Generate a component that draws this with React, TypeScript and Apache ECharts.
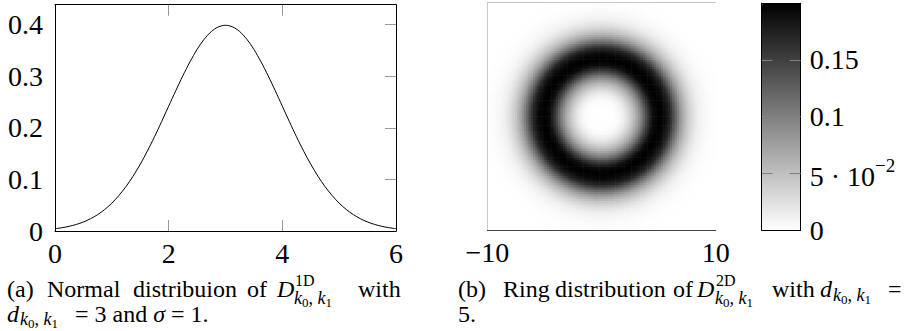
import React, { useEffect, useRef } from 'react';
import * as echarts from 'echarts';

// ---- Data ----
// (a) normal distribution curve
const normX = [0, 0.125, 0.25, 0.375, 0.5, 0.625, 0.75, 0.875, 1, 1.125, 1.25, 1.375, 1.5, 1.625, 1.75, 1.875, 2, 2.125, 2.25, 2.375, 2.5, 2.625, 2.75, 2.875, 3, 3.125, 3.25, 3.375, 3.5, 3.625, 3.75, 3.875, 4, 4.125, 4.25, 4.375, 4.5, 4.625, 4.75, 4.875, 5, 5.125, 5.25, 5.375, 5.5, 5.625, 5.75, 5.875, 6];
const normY = [0.0044, 0.0064, 0.0091, 0.0127, 0.0175, 0.0238, 0.0317, 0.0417, 0.054, 0.0689, 0.0863, 0.1065, 0.1295, 0.1549, 0.1826, 0.2119, 0.242, 0.2721, 0.3011, 0.328, 0.3521, 0.3719, 0.3867, 0.3958, 0.3989, 0.3958, 0.3867, 0.3719, 0.3521, 0.328, 0.3011, 0.2721, 0.242, 0.2119, 0.1826, 0.1549, 0.1295, 0.1065, 0.0863, 0.0689, 0.054, 0.0417, 0.0317, 0.0238, 0.0175, 0.0127, 0.0091, 0.0064, 0.0044];
const leftXLabels = [0, 2, 4, 6];
const leftXTicks = [2, 4];
const leftYLabels = [0, 0.1, 0.2, 0.3, 0.4];
const leftYTicks = [0.1, 0.2, 0.3, 0.4];

// (b) ring distribution: radial profile (radius -> value) read from grey levels
const ringRadius = [0, 0.5, 1, 1.5, 2, 2.5, 3, 3.5, 4, 4.5, 5, 5.5, 6, 6.5, 7, 7.5, 8, 8.5, 9, 9.5, 10, 10.5, 11, 15];
const ringValue = [0, 0.0005, 0.001, 0.004, 0.015, 0.035, 0.062, 0.1, 0.15, 0.19, 0.2, 0.193, 0.17, 0.12, 0.075, 0.045, 0.025, 0.012, 0.006, 0.003, 0.001, 0.0005, 0, 0];
const heatXLabels = [-10, 10];
const barLabels = [0, 0.05, 0.1, 0.15];
const barTicks = [0.05, 0.1, 0.15];

const FONT = 'Liberation Serif';
const N = 100;
const HALF = 10 / N;

function ringAt(r: number): number {
  for (let i = 0; i < ringRadius.length - 1; i++) {
    if (r >= ringRadius[i] && r <= ringRadius[i + 1]) {
      const t = (r - ringRadius[i]) / (ringRadius[i + 1] - ringRadius[i]);
      return ringValue[i] + t * (ringValue[i + 1] - ringValue[i]);
    }
  }
  return 0;
}

function buildHeat(): number[][] {
  const out: number[][] = [];
  for (let i = 0; i < N; i++) {
    for (let j = 0; j < N; j++) {
      const x = -10 + (i + 0.5) * 2 * HALF;
      const y = -10 + (j + 0.5) * 2 * HALF;
      out.push([x, y, ringAt(Math.sqrt(x * x + y * y))]);
    }
  }
  return out;
}

const fmtMinus = (v: number) => (v < 0 ? '\u2212' + Math.abs(v) : String(v));

const CAP = 24;

function txt(x: number, y: number, text: string, opts: any = {}) {
  return {
    type: 'text',
    x,
    y,
    silent: true,
    style: {
      text,
      fontFamily: FONT,
      fontSize: opts.fs || CAP,
      lineHeight: opts.lh,
      fontStyle: opts.it ? 'italic' : 'normal',
      fill: '#000',
      verticalAlign: 'middle',
      align: 'left',
      rich: opts.rich,
    },
  };
}

const subRich = {
  i: { fontFamily: FONT, fontSize: 18, lineHeight: 20, fontStyle: 'italic', verticalAlign: 'top' },
  c: { fontFamily: FONT, fontSize: 18, lineHeight: 20, verticalAlign: 'top' },
  d: { fontFamily: FONT, fontSize: 13, lineHeight: 11, verticalAlign: 'bottom' },
};
const subK = (x: number, y: number) => txt(x, y, '{i|k}{d|0}{c|, }{i|k}{d|1}', { rich: subRich });

const L1 = 289;
const L2 = 314;

const captions = [
  txt(7, L1, '(a)'),
  txt(47, L1, 'Normal'),
  txt(133, L1, 'distribuion'),
  txt(247, L1, 'of'),
  txt(277, L1, 'D', { it: true }),
  txt(295, L1 - 9, '1D', { fs: 16, lh: 13 }),
  subK(294, L1 + 10),
  txt(358, L1, 'with'),
  txt(7, L2, 'd', { it: true }),
  subK(20, L2 + 6),
  txt(75, L2, '{r|= 3 and }{i|\u03c3}{r| = 1.}', {
    rich: {
      r: { fontFamily: FONT, fontSize: CAP },
      i: { fontFamily: FONT, fontSize: CAP, fontStyle: 'italic' },
    },
  }),
  txt(458, L1, '(b)'),
  txt(503, L1, 'Ring'),
  txt(555, L1, 'distribution'),
  txt(673, L1, 'of'),
  txt(697, L1, 'D', { it: true }),
  txt(716, L1 - 9, '2D', { fs: 16, lh: 13 }),
  subK(715, L1 + 10),
  txt(772, L1, 'with'),
  txt(820, L1, 'd', { it: true }),
  subK(833, L1 + 7),
  txt(888, L1, '='),
  txt(458, L2, '5.'),
];

const noSplit = { show: false };

export default function App() {
  const ref = useRef<HTMLDivElement>(null);
  useEffect(() => {
    if (!ref.current) return;
    const chart = echarts.init(ref.current, null, { renderer: 'svg' });
    const heat = buildHeat();
    const lbl = { fontFamily: FONT, fontSize: 28, color: '#000' };
    const option: any = {
      animation: false,
      backgroundColor: '#fff',
      textStyle: { fontFamily: FONT },
      grid: [
        { left: 55, top: 4.7, width: 341, height: 226.3, show: false },
        { left: 487.3, top: 2.3, width: 228.4, height: 227.7, show: false },
        { left: 761.7, top: 3.3, width: 39, height: 226.7, show: false },
      ],
      xAxis: [
        {
          gridIndex: 0, type: 'value', min: 0, max: 6, position: 'bottom', z: 5,
          axisLine: { show: true, onZero: false, lineStyle: { color: '#000', width: 1 } },
          axisTick: { show: true, inside: true, length: 11, customValues: leftXTicks, lineStyle: { color: '#999', width: 1 } },
          axisLabel: { ...lbl, margin: 8, customValues: leftXLabels, formatter: (v: number) => String(v) },
          splitLine: noSplit,
        },
        {
          gridIndex: 0, type: 'value', min: 0, max: 6, position: 'top', z: 5,
          axisLine: { show: true, onZero: false, lineStyle: { color: '#000', width: 1 } },
          axisTick: { show: true, inside: true, length: 11, customValues: leftXTicks, lineStyle: { color: '#999', width: 1 } },
          axisLabel: { show: false },
          splitLine: noSplit,
        },
        {
          gridIndex: 1, type: 'value', min: -10, max: 10, position: 'bottom', z: 5,
          axisLine: { show: true, onZero: false, lineStyle: { color: '#444', width: 1 } },
          axisTick: { show: false },
          axisLabel: { ...lbl, margin: 8, customValues: heatXLabels, formatter: fmtMinus },
          splitLine: noSplit,
        },
        {
          gridIndex: 1, type: 'value', min: -10, max: 10, position: 'top', z: 5,
          axisLine: { show: true, onZero: false, lineStyle: { color: '#c8c8c8', width: 1 } },
          axisTick: { show: false },
          axisLabel: { show: false },
          splitLine: noSplit,
        },
        {
          gridIndex: 2, type: 'value', min: 0, max: 1, position: 'bottom', z: 5,
          axisLine: { show: true, onZero: false, lineStyle: { color: '#000', width: 1 } },
          axisTick: { show: false }, axisLabel: { show: false }, splitLine: noSplit,
        },
        {
          gridIndex: 2, type: 'value', min: 0, max: 1, position: 'top', z: 5,
          axisLine: { show: true, onZero: false, lineStyle: { color: '#000', width: 1 } },
          axisTick: { show: false }, axisLabel: { show: false }, splitLine: noSplit,
        },
      ],
      yAxis: [
        {
          gridIndex: 0, type: 'value', min: 0, max: 0.4388, position: 'left', z: 5,
          axisLine: { show: true, onZero: false, lineStyle: { color: '#000', width: 1 } },
          axisTick: { show: false },
          axisLabel: { ...lbl, margin: 12, customValues: leftYLabels, formatter: (v: number) => String(v) },
          splitLine: noSplit,
        },
        {
          gridIndex: 0, type: 'value', min: 0, max: 0.4388, position: 'right', z: 5,
          axisLine: { show: true, onZero: false, lineStyle: { color: '#000', width: 1 } },
          axisTick: { show: true, inside: true, length: 11, customValues: leftYTicks, lineStyle: { color: '#999', width: 1 } },
          axisLabel: { show: false },
          splitLine: noSplit,
        },
        {
          gridIndex: 1, type: 'value', min: -10, max: 10, position: 'left', z: 5,
          axisLine: { show: true, onZero: false, lineStyle: { color: '#c8c8c8', width: 1 } },
          axisTick: { show: false }, axisLabel: { show: false }, splitLine: noSplit,
        },
        {
          gridIndex: 2, type: 'value', min: 0, max: 0.2, position: 'right', z: 5,
          axisLine: { show: true, onZero: false, lineStyle: { color: '#000', width: 1 } },
          axisTick: { show: true, inside: true, length: 11, customValues: barTicks, lineStyle: { color: '#808080', width: 1 } },
          axisLabel: {
            ...lbl,
            margin: 9,
            customValues: barLabels,
            formatter: (v: number) => (Math.abs(v - 0.05) < 1e-9 ? '{n|5 \u00b7 10}{s|\u22122}' : String(v)),
            rich: {
              n: { fontFamily: FONT, fontSize: 28, lineHeight: 34, verticalAlign: 'bottom' },
              s: { fontFamily: FONT, fontSize: 19, lineHeight: 19, verticalAlign: 'top' },
            },
          },
          splitLine: noSplit,
        },
        {
          gridIndex: 2, type: 'value', min: 0, max: 0.2, position: 'left', z: 5,
          axisLine: { show: true, onZero: false, lineStyle: { color: '#000', width: 1 } },
          axisTick: { show: true, inside: true, length: 11, customValues: barTicks, lineStyle: { color: '#808080', width: 1 } },
          axisLabel: { show: false }, splitLine: noSplit,
        },
      ],
      visualMap: {
        type: 'continuous',
        min: 0,
        max: 0.2,
        seriesIndex: 1,
        dimension: 2,
        orient: 'vertical',
        left: 762,
        top: 3,
        itemWidth: 39,
        itemHeight: 227,
        padding: 0,
        calculable: false,
        hoverLink: false,
        z: 1,
        inRange: { color: ['#ffffff', '#000000'] },
      },
      series: [
        {
          type: 'line',
          xAxisIndex: 0,
          yAxisIndex: 0,
          data: normX.map((x, i) => [x, normY[i]]),
          smooth: 0.3,
          showSymbol: false,
          symbol: 'none',
          lineStyle: { color: '#000', width: 1 },
          silent: true,
          z: 3,
        },
        {
          type: 'custom',
          coordinateSystem: 'cartesian2d',
          xAxisIndex: 2,
          yAxisIndex: 2,
          encode: { x: 0, y: 1 },
          data: heat,
          progressive: 0,
          silent: true,
          renderItem: (params: any, api: any) => {
            const x = api.value(0);
            const y = api.value(1);
            const p = api.coord([x - HALF, y + HALF]);
            const s = api.size([2 * HALF, 2 * HALF]);
            const ex = x + HALF < 10 - 1e-6 ? 0.6 : 0;
            const ey = y - HALF > -10 + 1e-6 ? 0.6 : 0;
            return {
              type: 'rect',
              shape: { x: p[0], y: p[1], width: s[0] + ex, height: s[1] + ey },
              style: { fill: api.visual('color'), stroke: null },
            };
          },
        },
      ],
      graphic: captions,
    };
    chart.setOption(option);
    return () => chart.dispose();
  }, []);
  return (
    <div
      ref={ref}
      style={{ position: 'fixed', left: 0, top: 0, width: 910, height: 331, background: '#fff' }}
    />
  );
}
